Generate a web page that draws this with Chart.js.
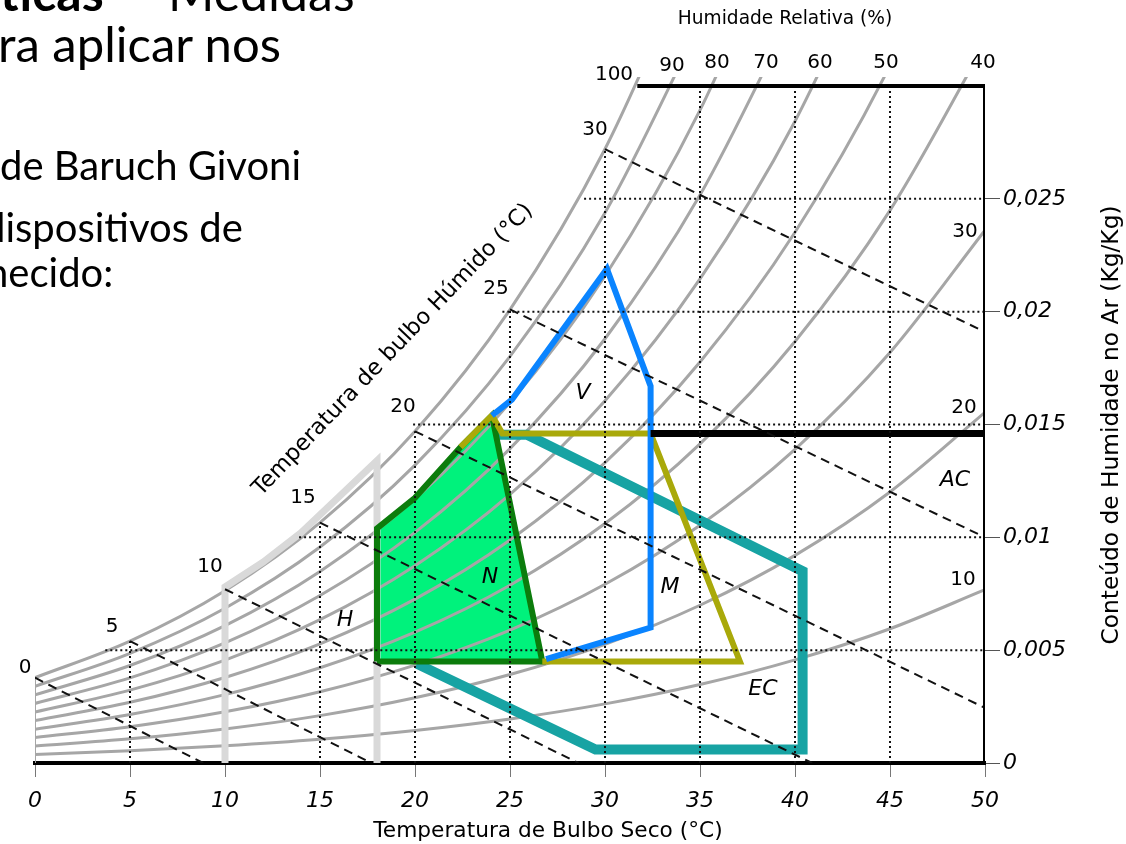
<!DOCTYPE html>
<html>
<head>
<meta charset="utf-8">
<script src="https://cdn.jsdelivr.net/npm/chart.js@4.4.1/dist/chart.umd.min.js"></script>
<style>
  body { margin: 0; background: #fff; }
  #wrap { position: relative; width: 1126px; height: 844px; overflow: hidden; }
  #chart { position: absolute; left: 0; top: 0; }
  .slide { position: absolute; font-family: Lato, "Open Sans", sans-serif; color: #000; white-space: nowrap; line-height: 1; }
</style>
</head>
<body>
<div id="wrap">
  <canvas id="chart" width="1126" height="844"></canvas>
  <div class="slide" style="left:0;top:-33px;font-size:50px"><b>ticas</b></div>
  <div class="slide" style="left:128px;top:-33px;font-size:50px">–</div>
  <div class="slide" style="left:168px;top:-33px;font-size:50px">Medidas</div>
  <div class="slide" style="left:-2px;top:19px;font-size:49px">ra aplicar nos</div>
  <div class="slide" style="left:0;top:145px;font-size:40px">de Baruch Givoni</div>
  <div class="slide" style="left:-17px;top:207px;font-size:40px">dispositivos de</div>
  <div class="slide" style="left:-14px;top:252px;font-size:40px">necido:</div>
</div>
<script>
// axes
const xTicks = [0, 5, 10, 15, 20, 25, 30, 35, 40, 45, 50];
const yTicks = [0, 0.005, 0.01, 0.015, 0.02, 0.025];
const yTickLabels = ["0", "0,005", "0,01", "0,015", "0,02", "0,025"];

// relative humidity curves: humidity ratio (kg/kg) at 0, 5, 10 ... 50 °C
const rhTemps = [0, 5, 10, 15, 20, 25, 30, 35, 40, 45, 50];
const rhLevels = ["100", "90", "80", "70", "60", "50", "40", "30", "20", "10"];
const rh100 = [0.00378, 0.00540, 0.00763, 0.01065, 0.01470, 0.02009, 0.02721, 0.03658];
const rh90  = [0.00340, 0.00486, 0.00686, 0.00957, 0.01320, 0.01802, 0.02438, 0.03273];
const rh80  = [0.00302, 0.00432, 0.00609, 0.00849, 0.01170, 0.01597, 0.02158, 0.02893, 0.03851];
const rh70  = [0.00264, 0.00377, 0.00532, 0.00742, 0.01022, 0.01393, 0.01880, 0.02517, 0.03344];
const rh60  = [0.00226, 0.00323, 0.00456, 0.00635, 0.00874, 0.01190, 0.01605, 0.02145, 0.02844, 0.03747];
const rh50  = [0.00188, 0.00269, 0.00379, 0.00528, 0.00726, 0.00988, 0.01331, 0.01777, 0.02352, 0.03091, 0.04037];
const rh40  = [0.00150, 0.00215, 0.00303, 0.00422, 0.00580, 0.00788, 0.01061, 0.01414, 0.01868, 0.02449, 0.03188];
const rh30  = [0.00113, 0.00161, 0.00227, 0.00316, 0.00434, 0.00589, 0.00792, 0.01054, 0.01390, 0.01819, 0.02361];
const rh20  = [0.00075, 0.00107, 0.00151, 0.00210, 0.00289, 0.00392, 0.00526, 0.00699, 0.00920, 0.01201, 0.01554];
const rh10  = [0.00038, 0.00054, 0.00076, 0.00105, 0.00144, 0.00195, 0.00262, 0.00348, 0.00457, 0.00595, 0.00768];
const rhCurves = [rh100, rh90, rh80, rh70, rh60, rh50, rh40, rh30, rh20, rh10];

// wet bulb lines (dashed): start on saturation, end on axis / right border
const wetBulbTemps  = [0, 5, 10, 15, 20, 25, 30];
const wetBulbStartW = [0.00378, 0.0054, 0.0077, 0.01065, 0.0147, 0.0201, 0.0272];
const wetBulbEndT   = [8.85, 17.7, 28.6, 40.9, 50, 50, 50];
const wetBulbEndW   = [0, 0, 0, 0, 0.00244, 0.0100, 0.0191];

// dotted grid, clipped by the saturation curve
const gridTemps     = [5, 15, 20, 25, 30, 35, 40, 45];
const gridTempTops  = [0.0054, 0.01065, 0.0147, 0.0201, 0.0272, 0.0300, 0.0300, 0.0300];
const gridRatios    = [0.005, 0.01, 0.015, 0.02, 0.025];
const gridRatioFrom = [3.7, 13.9, 19.9, 24.6, 28.9];

// Givoni zones
const zoneNames = ["H", "N", "V", "M", "AC", "EC"];
const zoneH_T  = [10, 10, 12, 14, 16, 18, 18];
const zoneH_W  = [0, 0.0078, 0.0089, 0.0102, 0.0118, 0.0134, 0];
const zoneN_T  = [18, 18, 20, 22.4, 24.05, 26.7, 18];
const zoneN_W  = [0.0045, 0.0104, 0.01175, 0.0140, 0.0154, 0.0045, 0.0045];
const zoneV_T  = [24.05, 25.1, 30.1, 32.4, 32.4, 26.9];
const zoneV_W  = [0.0154, 0.0161, 0.0219, 0.0167, 0.0060, 0.0046];
const zoneM_T  = [22.4, 24.05, 24.6, 32.4, 37.1, 26.7];
const zoneM_W  = [0.0140, 0.0154, 0.0146, 0.0146, 0.0045, 0.0045];
const zoneEC_T = [24.2, 25.9, 40.4, 40.4, 29.5, 20.1];
const zoneEC_W = [0.01455, 0.01455, 0.0085, 0.0006, 0.0006, 0.0044];
const zoneAC_T = [32.4, 50];
const zoneAC_W = [0.0146, 0.0146];
const frameT = [31.7, 50, 50];
const frameW = [0.0300, 0.0300, 0];

const pts = (xs, ys) => ys.map((y, i) => ({ x: xs[i], y }));
const FONT = '"DejaVu Sans", sans-serif';

const datasets = [];
const line = (data, color, width, order, extra) =>
  datasets.push(Object.assign({ data, borderColor: color, borderWidth: width, order, fill: false, pointRadius: 0 }, extra || {}));

// comfort zone fill sits under everything
line(pts(zoneN_T, zoneN_W), "transparent", 0, 100, { fill: "shape", backgroundColor: "#00f27c" });

rhCurves.forEach(c => line(pts(rhTemps, c), "#a6a6a6", 3, 90, { cubicInterpolationMode: "monotone" }));
line(pts([0, 0], [0, rh100[0]]), "#a6a6a6", 2, 90);

line(pts(zoneH_T, zoneH_W), "#d9d9d9", 7, 80);
line(pts(zoneEC_T, zoneEC_W), "#17a3a3", 10, 70, { borderJoinStyle: "miter" });
line(pts(zoneN_T, zoneN_W), "#0c7c0c", 6, 66);
line(pts(zoneM_T, zoneM_W), "#a9a90a", 6, 64);
line(pts(zoneV_T, zoneV_W), "#0a84ff", 6, 62);
line(pts(zoneAC_T, zoneAC_W), "#000", 7, 60);

gridTemps.forEach((t, i) => line(pts([t, t], [0, gridTempTops[i]]), "#111", 2, 40, { borderDash: [2, 3] }));
gridRatios.forEach((w, i) => line(pts([gridRatioFrom[i], 50], [w, w]), "#111", 2, 40, { borderDash: [2, 3] }));

wetBulbTemps.forEach((t, i) =>
  line(pts([t, wetBulbEndT[i]], [wetBulbStartW[i], wetBulbEndW[i]]), "#111", 2, 30, { borderDash: [9, 6] }));

line(pts(frameT, frameW), "#000", 4, 10);

function fitFont(ctx, text, style, width) {
  ctx.font = `${style} 20px ${FONT}`;
  const size = 20 * width / ctx.measureText(text).width;
  ctx.font = `${style} ${size.toFixed(1)}px ${FONT}`;
}

const textPlugin = {
  id: "chartText",
  afterDraw(chart) {
    const ctx = chart.ctx;
    ctx.save();
    ctx.fillStyle = "#000";
    ctx.textAlign = "center";
    ctx.textBaseline = "middle";

    ctx.font = `20px ${FONT}`;
    const rhXY = [[614, 75], [672, 66], [717, 63], [766, 63], [820, 63], [886, 63], [983, 63], [965, 232], [964, 408], [963, 580]];
    rhLevels.forEach((t, i) => ctx.fillText(t, rhXY[i][0], rhXY[i][1]));

    const wbXY = [[25, 668], [112, 627], [210, 567], [303, 498], [403, 407], [496, 289], [595, 130]];
    wetBulbTemps.forEach((t, i) => ctx.fillText(String(t), wbXY[i][0], wbXY[i][1]));

    ctx.font = `oblique 22px ${FONT}`;
    const zoneXY = [[345, 620], [490, 577], [583, 393], [670, 587], [955, 480], [763, 689]];
    zoneNames.forEach((t, i) => ctx.fillText(t, zoneXY[i][0], zoneXY[i][1]));

    let t = "Humidade Relativa (%)";
    fitFont(ctx, t, "", 215);
    ctx.fillText(t, 785, 19);

    t = "Temperatura de Bulbo Seco (°C)";
    fitFont(ctx, t, "", 349);
    ctx.fillText(t, 548, 831);

    t = "Conteúdo de Humidade no Ar (Kg/Kg)";
    fitFont(ctx, t, "", 440);
    ctx.save();
    ctx.translate(1112, 425);
    ctx.rotate(-Math.PI / 2);
    ctx.fillText(t, 0, 0);
    ctx.restore();

    t = "Temperatura de bulbo Húmido (°C)";
    fitFont(ctx, t, "", 395);
    ctx.save();
    ctx.translate(393, 350);
    ctx.rotate(-46.3 * Math.PI / 180);
    ctx.fillText(t, 0, 0);
    ctx.restore();

    ctx.restore();
  }
};

new Chart(document.getElementById("chart"), {
  type: "line",
  data: { datasets },
  plugins: [textPlugin],
  options: {
    responsive: false,
    devicePixelRatio: 1,
    animation: false,
    events: [],
    layout: { padding: { left: 35, top: 77, right: 0, bottom: 0 } },
    elements: { line: { tension: 0, borderCapStyle: "butt" }, point: { radius: 0 } },
    plugins: { legend: { display: false }, tooltip: { enabled: false } },
    scales: {
      x: {
        type: "linear", min: 0, max: 50,
        afterBuildTicks: s => { s.ticks = xTicks.map(v => ({ value: v })); },
        afterFit: s => { s.height = 81; },
        grid: { drawOnChartArea: false, drawTicks: true, tickLength: 14, color: "#777" },
        border: { display: true, color: "#000", width: 4 },
        ticks: { color: "#000", padding: 11, maxRotation: 0, font: { family: FONT, size: 22, style: "oblique" } }
      },
      y: {
        type: "linear", position: "right", min: 0, max: 0.0304,
        afterBuildTicks: s => { s.ticks = yTicks.map(v => ({ value: v })); },
        afterFit: s => { s.width = 141; },
        grid: { drawOnChartArea: false, drawTicks: true, tickLength: 15, color: "#555" },
        border: { display: false },
        ticks: {
          color: "#000", padding: 3, font: { family: FONT, size: 22, style: "oblique" },
          callback: (v, i) => yTickLabels[i]
        }
      }
    }
  }
});
</script>
</body>
</html>
